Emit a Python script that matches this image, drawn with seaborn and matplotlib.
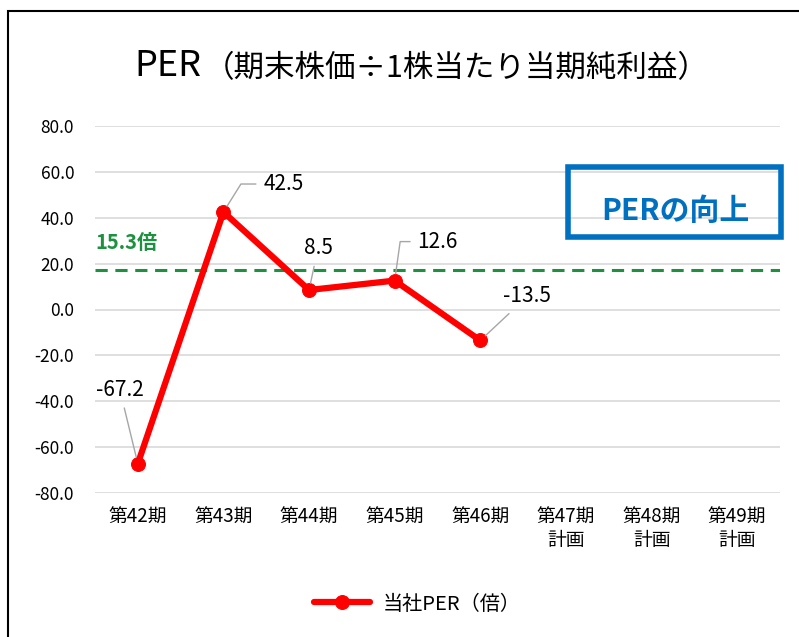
import matplotlib
matplotlib.use("Agg")
import matplotlib.pyplot as plt
import matplotlib.patches as patches
import seaborn as sns
import numpy as np
import pandas as pd

periods = ["第42期", "第43期", "第44期", "第45期", "第46期", "第47期\n計画", "第48期\n計画", "第49期\n計画"]
per_values = [-67.2, 42.5, 8.5, 12.6, -13.5]
avg_line = 17.4
avg_label = "15.3倍"
series_name = "当社PER（倍）"
y_ticks = [-80, -60, -40, -20, 0, 20, 40, 60, 80]

# label offsets in pixels (text centre relative to point) and leader style
label_offsets = [(-18, 74), (60, 28), (9, 42), (43, 39), (47, 44)]
leader_styles = ["arc3", "angle,angleA=0,angleB=58", "arc3", "angle,angleA=0,angleB=82", "arc3"]

sns.set_style("white")
plt.rcParams["font.family"] = ["Noto Sans CJK JP", "DejaVu Sans"]
plt.rcParams["text.color"] = "black"
plt.rcParams["xtick.color"] = "black"
plt.rcParams["ytick.color"] = "black"

fig = plt.figure(figsize=(7.99, 6.37), dpi=100)
ax = fig.add_axes([95 / 799, 1 - 493 / 637, 685 / 799, 367 / 637])

df = pd.DataFrame({"idx": np.arange(len(per_values)), "PER": per_values})
sns.lineplot(data=df, x="idx", y="PER", ax=ax, color="#FF0000", linewidth=4.5,
             marker="o", markersize=10, markeredgecolor="#FF0000", label=series_name)

ax.axhline(avg_line, color="#1E9140", linestyle=(0, (4, 2.5)), linewidth=2.2, zorder=1)

ax.set_xlim(-0.5, len(periods) - 0.5)
ax.set_ylim(-80, 80)
ax.set_yticks(y_ticks)
ax.set_yticklabels([f"{v:.1f}" for v in y_ticks], fontsize=12.5)
ax.set_xticks(range(len(periods)))
ax.set_xticklabels(periods, fontsize=13.5, linespacing=1.15)
ax.tick_params(axis="both", length=0)
ax.tick_params(axis="x", pad=10)
ax.tick_params(axis="y", pad=15)
ax.grid(axis="y", color="#D9D9D9", linewidth=1.2)
ax.set_axisbelow(True)
for s in ax.spines.values():
    s.set_visible(False)
ax.set_xlabel("")
ax.set_ylabel("")

for i, (v, off, cs) in enumerate(zip(per_values, label_offsets, leader_styles)):
    ax.annotate(f"{v:.1f}", xy=(i, v), xytext=off, textcoords="offset pixels",
                ha="center", va="center", fontsize=15,
                arrowprops=dict(arrowstyle="-", color="#A6A6A6", lw=1, shrinkA=3, shrinkB=5,
                                connectionstyle=cs))

fig.text(95 / 799, 1 - 243 / 637, avg_label, color="#1E9140", fontsize=14.5,
         fontweight="bold", ha="left", va="center")

# box
fig.patches.append(patches.Rectangle((568 / 799, 1 - 237 / 637), 213 / 799, 70 / 637,
                                     transform=fig.transFigure, fill=False,
                                     edgecolor="#0070C0", linewidth=4))
fig.text(675 / 799, 1 - 211 / 637, "PERの向上", color="#0070C0", fontsize=21.5,
         fontweight="bold", ha="center", va="center")

# title
fig.text(201 / 799, 1 - 66 / 637, "PER", fontsize=26, ha="right", va="center")
fig.text(204 / 799, 1 - 69 / 637, "（期末株価÷1株当たり当期純利益）", fontsize=22, ha="left", va="center")

# chart frame
fig.patches.append(patches.Rectangle((8 / 799, -0.1), 2, 1.1 - 11 / 637,
                                     transform=fig.transFigure, fill=False,
                                     edgecolor="black", linewidth=1.5))

ax.get_legend().remove()
h, l = ax.get_legend_handles_labels()
fig.legend(h, l, loc="center", bbox_to_anchor=(417 / 799, 1 - 604 / 637), frameon=False,
           fontsize=14.5, handlelength=2.8, handletextpad=0.6)

fig.savefig("out.png", dpi=100)
